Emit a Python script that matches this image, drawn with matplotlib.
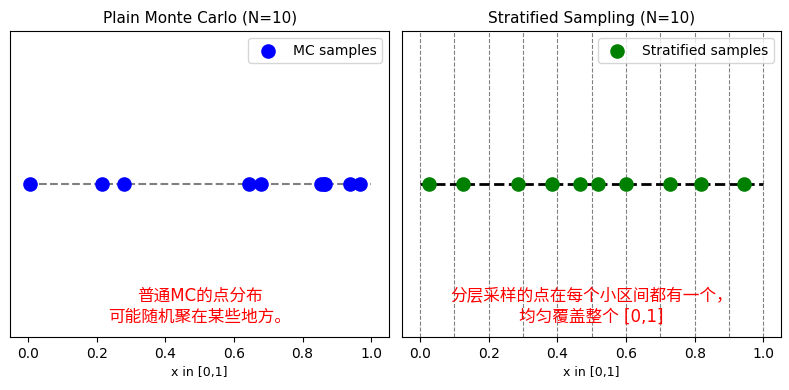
import numpy as np
import matplotlib.pyplot as plt

plt.rcParams['font.family'] = ['DejaVu Sans', 'Noto Sans CJK SC']

N = 10
mc_x = [0.006, 0.216, 0.279, 0.643, 0.679, 0.855, 0.866, 0.862, 0.939, 0.968]
strat_x = [0.027, 0.126, 0.285, 0.384, 0.467, 0.518, 0.601, 0.729, 0.818, 0.943]
edges = [i / N for i in range(N + 1)]

mc_note = "普通MC的点分布\n可能随机聚在某些地方。"
strat_note = "分层采样的点在每个小区间都有一个，\n均匀覆盖整个 [0,1]"

fig, (ax1, ax2) = plt.subplots(1, 2, figsize=(7.89, 3.9), dpi=100)

# plain MC
ax1.plot([0, 1], [0, 0], '--', color='gray', linewidth=1.5)
ax1.scatter(mc_x, np.zeros(len(mc_x)), s=90, color='blue', label='MC samples', zorder=3)
ax1.set_title("Plain Monte Carlo (N=10)", fontsize=11)
ax1.text(0.5, -0.4, mc_note, color='red', ha='center', va='center', fontsize=12)

# stratified
for e in edges:
    ax2.axvline(e, color='gray', linestyle='--', linewidth=0.8)
ax2.plot([0, 1], [0, 0], '--', color='black', linewidth=2)
ax2.scatter(strat_x, np.zeros(len(strat_x)), s=90, color='green', label='Stratified samples', zorder=3)
ax2.set_title("Stratified Sampling (N=10)", fontsize=11)
ax2.text(0.5, -0.4, strat_note, color='red', ha='center', va='center', fontsize=12)

for ax in (ax1, ax2):
    ax.set_xlim(-0.052, 1.052)
    ax.set_ylim(-0.5, 0.5)
    ax.set_yticks([])
    ax.set_xlabel("x in [0,1]", fontsize=9)
    ax.tick_params(axis='x', labelsize=10)
    ax.legend(loc='upper right', fontsize=10)

plt.subplots_adjust(left=0.013, right=0.99, top=0.92, bottom=0.136, wspace=0.035)
plt.savefig('out.png', dpi=100)
